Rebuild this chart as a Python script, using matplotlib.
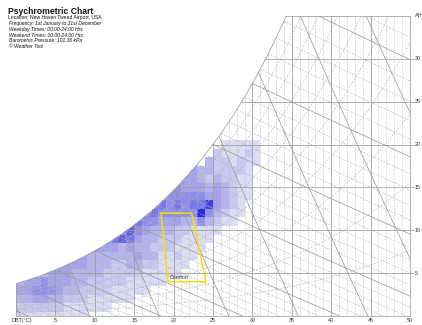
import numpy as np
import matplotlib
matplotlib.use("Agg")
import matplotlib.pyplot as plt
from matplotlib.colors import LinearSegmentedColormap
from matplotlib.patches import Polygon

plt.rcParams['font.family'] = ['Liberation Sans', 'DejaVu Sans']

# ---------------------------------------------------------------- data
PRESSURE_KPA = 101.36
dbt_ticks = [5, 10, 15, 20, 25, 30, 35, 40, 45, 50]
ah_ticks = [5, 10, 15, 20, 25, 30]

# Hour frequency per cell: rows = absolute humidity (g/kg, bin centre 0..20),
# columns = dry bulb temperature (deg C, bins 0-1 .. 31-32)
hours = [
    [1, 1, 1, 1, 1, 1, 1, 1, 1, 0, 0, 0, 0, 0, 0, 0, 0, 0, 0, 0, 0, 0, 0, 0, 0, 0, 0, 0, 0, 0, 0, 0],
    [2, 2, 2, 2, 2, 2, 1, 1, 1, 1, 1, 1, 0, 0, 0, 0, 0, 0, 0, 0, 0, 0, 0, 0, 0, 0, 0, 0, 0, 0, 0, 0],
    [3, 3, 4, 4, 3, 3, 2, 2, 2, 1, 1, 1, 1, 1, 1, 0, 0, 0, 0, 0, 0, 0, 0, 0, 0, 0, 0, 0, 0, 0, 0, 0],
    [4, 4, 5, 5, 5, 4, 3, 3, 2, 2, 2, 2, 1, 1, 1, 1, 1, 0, 0, 0, 0, 0, 0, 0, 0, 0, 0, 0, 0, 0, 0, 0],
    [3, 4, 4, 5, 4, 4, 4, 3, 3, 2, 2, 2, 2, 2, 1, 1, 1, 1, 1, 0, 0, 0, 0, 0, 0, 0, 0, 0, 0, 0, 0, 0],
    [0, 0, 0, 3, 4, 4, 4, 3, 3, 3, 3, 2, 2, 2, 2, 2, 1, 1, 1, 1, 1, 0, 0, 0, 0, 0, 0, 0, 0, 0, 0, 0],
    [0, 0, 0, 0, 0, 4, 4, 4, 4, 3, 3, 3, 2, 2, 3, 3, 2, 2, 1, 1, 1, 1, 0, 0, 0, 0, 0, 0, 0, 0, 0, 0],
    [0, 0, 0, 0, 0, 0, 4, 4, 4, 3, 3, 3, 3, 3, 3, 4, 3, 3, 1, 1, 2, 1, 1, 0, 0, 0, 0, 0, 0, 0, 0, 0],
    [0, 0, 0, 0, 0, 0, 0, 0, 4, 5, 4, 4, 4, 3, 4, 3, 3, 2, 2, 2, 1, 1, 1, 1, 0, 0, 0, 0, 0, 0, 0, 0],
    [0, 0, 0, 0, 0, 0, 0, 0, 0, 0, 5, 5, 6, 7, 6, 4, 3, 3, 2, 2, 2, 1, 1, 1, 1, 0, 0, 0, 0, 0, 0, 0],
    [0, 0, 0, 0, 0, 0, 0, 0, 0, 0, 0, 5, 5, 5, 7, 5, 4, 3, 3, 3, 2, 2, 1, 1, 1, 1, 0, 0, 0, 0, 0, 0],
    [0, 0, 0, 0, 0, 0, 0, 0, 0, 0, 0, 0, 0, 5, 5, 6, 5, 5, 4, 4, 4, 3, 3, 5, 3, 2, 1, 1, 0, 0, 0, 0],
    [0, 0, 0, 0, 0, 0, 0, 0, 0, 0, 0, 0, 0, 0, 0, 5, 5, 6, 5, 5, 5, 5, 5, 9, 5, 3, 2, 1, 1, 0, 0, 0],
    [0, 0, 0, 0, 0, 0, 0, 0, 0, 0, 0, 0, 0, 0, 0, 0, 0, 5, 6, 5, 6, 5, 6, 6, 8, 4, 3, 2, 1, 0, 0, 0],
    [0, 0, 0, 0, 0, 0, 0, 0, 0, 0, 0, 0, 0, 0, 0, 0, 0, 0, 5, 5, 5, 5, 5, 5, 4, 4, 3, 2, 1, 1, 0, 0],
    [0, 0, 0, 0, 0, 0, 0, 0, 0, 0, 0, 0, 0, 0, 0, 0, 0, 0, 0, 5, 5, 4, 4, 4, 3, 4, 3, 2, 1, 1, 0, 0],
    [0, 0, 0, 0, 0, 0, 0, 0, 0, 0, 0, 0, 0, 0, 0, 0, 0, 0, 0, 0, 0, 4, 4, 3, 2, 3, 2, 2, 1, 1, 0, 0],
    [0, 0, 0, 0, 0, 0, 0, 0, 0, 0, 0, 0, 0, 0, 0, 0, 0, 0, 0, 0, 0, 0, 4, 3, 3, 2, 2, 2, 2, 1, 0, 0],
    [0, 0, 0, 0, 0, 0, 0, 0, 0, 0, 0, 0, 0, 0, 0, 0, 0, 0, 0, 0, 0, 0, 0, 0, 3, 2, 2, 1, 2, 1, 1, 0],
    [0, 0, 0, 0, 0, 0, 0, 0, 0, 0, 0, 0, 0, 0, 0, 0, 0, 0, 0, 0, 0, 0, 0, 0, 0, 2, 1, 1, 1, 2, 1, 0],
    [0, 0, 0, 0, 0, 0, 0, 0, 0, 0, 0, 0, 0, 0, 0, 0, 0, 0, 0, 0, 0, 0, 0, 0, 0, 0, 1, 1, 1, 1, 1, 0],
]

# Comfort zone outline (DBT deg C, AH g/kg)
comfort_dbt = [18.4, 22.3, 24.1, 19.3]
comfort_ah = [12.0, 12.0, 4.0, 4.0]

# Psychrometric line sets
rh_levels = [0.1, 0.2, 0.3, 0.4, 0.5, 0.6, 0.7, 0.8, 0.9]
wbt_levels = list(range(-8, 41))
sv_levels = [0.775, 0.800, 0.825, 0.850, 0.875, 0.900, 0.925, 0.950]

# ---------------------------------------------------------------- psychrometrics
def p_sat(t):
    return 0.61094 * np.exp(17.625 * t / (t + 243.04))


def w_at(t, rh=1.0):
    ps = rh * p_sat(t)
    return 622.0 * ps / (PRESSURE_KPA - ps)


def w_wetbulb(t, tw):
    ws = w_at(tw) / 1000.0
    w = ((2501 - 2.326 * tw) * ws - 1.006 * (t - tw)) / (2501 + 1.86 * t - 4.186 * tw)
    return w * 1000.0


def w_volume(t, v):
    return (v * PRESSURE_KPA / (0.287042 * (t + 273.15)) - 1.0) / 1.607858 * 1000.0


T_MAX, W_MAX = 50.0, 35.0
tt = np.linspace(0, T_MAX, 2001)
t_top = float(np.interp(W_MAX, w_at(tt), tt))

# ---------------------------------------------------------------- figure
fig = plt.figure(figsize=(4.22, 3.25), dpi=100)
ax = fig.add_axes([16 / 422, 9 / 325, 394 / 422, 300 / 325])
ax.set_xlim(0, T_MAX)
ax.set_ylim(0, W_MAX)
ax.axis('off')

curve_t = np.linspace(0, t_top, 300)
curve_w = w_at(curve_t)
region = np.vstack([[[0, 0], [T_MAX, 0], [T_MAX, W_MAX], [t_top, W_MAX]],
                    np.column_stack([curve_t[::-1], curve_w[::-1]])])
clip = Polygon(region, closed=True, transform=ax.transData, facecolor='none', edgecolor='none')
ax.add_patch(clip)

# frequency cells
cmap = LinearSegmentedColormap.from_list(
    'freq', [(0.0, '#ffffff'), (1 / 9, '#dcdcf6'), (3 / 9, '#b4b4ef'),
             (5 / 9, '#8e8eec'), (7 / 9, '#6060e8'), (1.0, '#2828e6')])
data = np.ma.masked_equal(np.array(hours, dtype=float), 0)
x_edges = np.arange(0, len(hours[0]) + 1)
y_edges = np.arange(len(hours) + 1) - 0.5
mesh = ax.pcolormesh(x_edges, y_edges, data, cmap=cmap, vmin=0, vmax=9, zorder=1)
mesh.set_clip_path(clip)

SOLID = dict(color='#9c9c9c', lw=0.55, zorder=3)
DASH = dict(color='#b8b8b8', lw=0.45, zorder=2)


def draw(x, y, style, ls='-', dashes=None):
    line, = ax.plot(x, y, ls=ls, **style)
    if dashes is not None:
        line.set_dashes(dashes)
    line.set_clip_path(clip)
    return line


# dry bulb verticals
for t in range(1, 50):
    if t % 5 == 0:
        draw([t, t], [0, W_MAX], SOLID)
    else:
        draw([t, t], [0, W_MAX], DASH, dashes=(1.2, 1.2))

# absolute humidity horizontals
for w in ah_ticks:
    draw([0, T_MAX], [w, w], SOLID)

# relative humidity curves
for rh in rh_levels:
    draw(tt, w_at(tt, rh), DASH, dashes=(3, 2))

# wet bulb lines
for tw in wbt_levels:
    tl = np.linspace(tw, T_MAX, 200)
    wl = w_wetbulb(tl, tw)
    if tw % 5 == 0:
        draw(tl, wl, SOLID)
    else:
        draw(tl, wl, DASH, dashes=(3, 2))

# specific volume lines
for v in sv_levels:
    draw(tt, w_volume(tt, v), SOLID)

# chart boundary
ax.plot(curve_t, curve_w, **SOLID)
ax.plot([t_top, T_MAX, T_MAX, 0, 0], [W_MAX, W_MAX, 0, 0, curve_w[0]], clip_on=False, **SOLID)

# comfort zone
ax.add_patch(Polygon(list(zip(comfort_dbt, comfort_ah)), closed=True, fill=False,
                     edgecolor='#f5e100', lw=1.1, zorder=5))
ax.text(comfort_dbt[3] + 0.2, comfort_ah[3] + 0.25, 'Comfort', fontsize=3.8,
        color='#333333', ha='left', va='bottom', zorder=6)

# axis labels (placed in pixel rows of the figure)
def fig_text(x, y, s, ha='left', **kw):
    fig.text(x / 422, 1 - y / 325, s, va='center', ha=ha, **kw)


for t in dbt_ticks:
    fig_text(16 + 7.88 * t, 320.5, str(t), ha='center', fontsize=3.9, color='#333333')
fig_text(11.5, 320.5, 'DBT(°C)', fontsize=3.9, color='#333333')
for w in ah_ticks:
    ax.plot([T_MAX, T_MAX + 0.5], [w, w], clip_on=False, **SOLID)
    ax.text(T_MAX + 0.6, w, str(w), fontsize=3.9, ha='left', va='center', color='#333333', clip_on=False)
ax.text(T_MAX + 0.6, W_MAX + 0.1, 'AH', fontsize=3.9, ha='left', va='center', color='#333333', clip_on=False)

# header
fig_text(7.5, 11, 'Psychrometric Chart', fontsize=6.2, fontweight='bold', color='#111111')
fig_text(8, 17.5, 'Location: New Haven Tweed Airport, USA', fontsize=3.6, color='#111111')
info = ['Frequency: 1st January to 31st December',
        'Weekday Times: 00:00-24:00 Hrs',
        'Weekend Times: 00:00-24:00 Hrs',
        'Barometric Pressure: 101.36 kPa',
        '© Weather Tool']
for i, s in enumerate(info):
    fig_text(9, 24 + 5.6 * i, s, fontsize=3.6, style='italic', color='#111111')

fig.savefig('out.png', dpi=100, facecolor='white')
